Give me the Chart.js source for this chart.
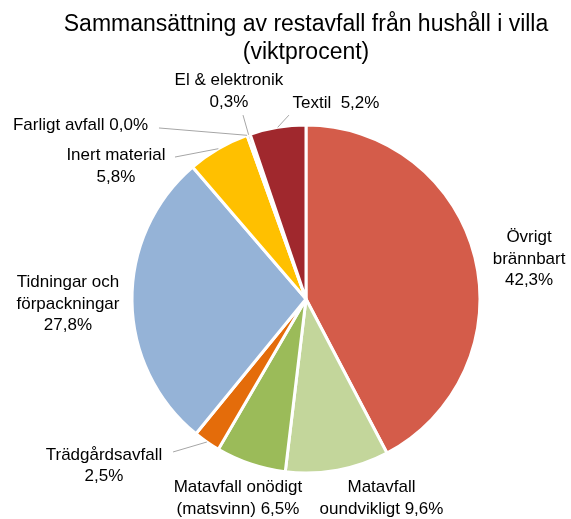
<!DOCTYPE html>
<html>
<head>
<meta charset="utf-8">
<script src="https://cdn.jsdelivr.net/npm/chart.js@4"></script>
<style>
  html, body { margin: 0; padding: 0; background: #fff; }
  #wrap { width: 571px; height: 519px; }
</style>
</head>
<body>
<div id="wrap"><canvas id="pie"></canvas></div>
<script>
const categories = [
  'Övrigt brännbart',
  'Matavfall oundvikligt',
  'Matavfall onödigt (matsvinn)',
  'Trädgårdsavfall',
  'Tidningar och förpackningar',
  'Inert material',
  'Farligt avfall',
  'El & elektronik',
  'Textil'
];
const percentages = [42.3, 9.6, 6.5, 2.5, 27.8, 5.8, 0.0, 0.3, 5.2];
const labelLines = [
  ['Övrigt', 'brännbart', '42,3%'],
  ['Matavfall', 'oundvikligt 9,6%'],
  ['Matavfall onödigt', '(matsvinn) 6,5%'],
  ['Trädgårdsavfall', '2,5%'],
  ['Tidningar och', 'förpackningar', '27,8%'],
  ['Inert material', '5,8%'],
  ['Farligt avfall 0,0%'],
  ['El & elektronik', '0,3%'],
  ['Textil  5,2%']
];
const sliceColors = ['#D45C4A', '#C3D69B', '#9BBB59', '#E46C0A', '#95B3D7', '#FFC000', '#C0504D', '#7F7F7F', '#A0282D'];

// label placement, relative to pie centre in units of radius; leader = start of leader line
const labelLayout = [
  { x: 1.282, y: -0.230 },
  { x: 0.434, y: 1.144 },
  { x: -0.391, y: 1.144 },
  { x: -1.161, y: 0.960, leader: [-0.764, 0.879] },
  { x: -1.368, y: 0.029 },
  { x: -1.092, y: -0.764, leader: [-0.753, -0.816] },
  { x: -1.296, y: -1.000, leader: [-0.845, -0.983] },
  { x: -0.443, y: -1.193, leader: [-0.362, -1.057] },
  { x: 0.172, y: -1.126, leader: [-0.098, -1.057] }
];

const FONT = '"Liberation Sans", Arial, sans-serif';

const pieLabels = {
  id: 'pieLabels',
  afterDatasetsDraw(chart) {
    const ctx = chart.ctx;
    const arcs = chart.getDatasetMeta(0).data;
    ctx.save();
    arcs.forEach((arc, i) => {
      const cx = arc.x, cy = arc.y, r = arc.outerRadius;
      const lay = labelLayout[i];
      if (lay.leader) {
        const mid = (arc.startAngle + arc.endAngle) / 2;
        ctx.beginPath();
        ctx.strokeStyle = '#A6A6A6';
        ctx.lineWidth = 1;
        ctx.moveTo(cx + lay.leader[0] * r, cy + lay.leader[1] * r);
        ctx.lineTo(cx + Math.cos(mid) * r, cy + Math.sin(mid) * r);
        ctx.stroke();
      }
      const lines = labelLines[i];
      const lh = 21.5;
      const x0 = cx + lay.x * r;
      const y0 = cy + lay.y * r - (lines.length - 1) * lh / 2;
      ctx.fillStyle = '#000';
      ctx.font = '17px ' + FONT;
      ctx.textAlign = 'center';
      ctx.textBaseline = 'middle';
      lines.forEach((t, k) => ctx.fillText(t, x0, y0 + k * lh));
    });
    ctx.restore();
  }
};

new Chart(document.getElementById('pie'), {
  type: 'pie',
  data: {
    labels: categories,
    datasets: [{
      data: percentages,
      backgroundColor: sliceColors,
      borderColor: '#fff',
      borderWidth: 3
    }]
  },
  options: {
    responsive: true,
    maintainAspectRatio: false,
    animation: false,
    radius: 174,
    layout: { padding: { left: 48, right: 7, top: 0, bottom: 4 } },
    plugins: {
      legend: { display: false },
      tooltip: { enabled: false },
      title: {
        display: true,
        text: ['Sammansättning av restavfall från hushåll i villa', '(viktprocent)'],
        color: '#000',
        font: { family: FONT, size: 23, weight: 'normal', lineHeight: 1.24 },
        padding: { top: 10, bottom: 16 }
      }
    }
  },
  plugins: [pieLabels]
});
</script>
</body>
</html>
